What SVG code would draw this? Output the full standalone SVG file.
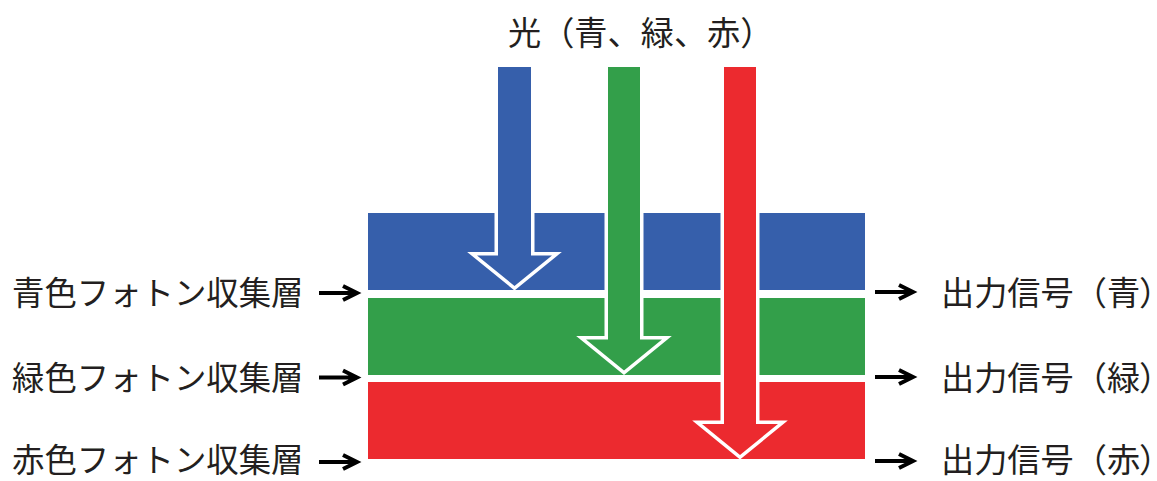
<svg xmlns="http://www.w3.org/2000/svg" width="1157" height="481" viewBox="0 0 1157 481">
<style>
.t{font-family:"Noto Sans CJK JP","Noto Sans",sans-serif;font-size:32.4px;fill:#231f20}
.r{font-size:33.2px}
.p{font-feature-settings:"palt"}
.arr{stroke:#fff;stroke-width:7;stroke-linejoin:miter;paint-order:stroke}
.c{fill:none;stroke:#000;stroke-width:4;stroke-linecap:butt;stroke-linejoin:miter}
</style>
<rect width="1157" height="481" fill="#fff"/>
<g id="layer-blue"><rect x="368" y="213" width="497" height="77" fill="#365fab"/></g>
<g id="layer-green"><rect x="368" y="298" width="497" height="77" fill="#339f4a"/></g>
<g id="layer-red"><rect x="368" y="382" width="497" height="77" fill="#ec2a2f"/></g>
<g id="light-blue"><path class="arr" fill="#365fab" d="M498,67 H531 V255.5 H552 L514.5,286 L477,255.5 H498 Z"/></g>
<g id="light-green"><path class="arr" fill="#339f4a" d="M608,67 H640 V339.5 H662 L624,370.5 L586,339.5 H608 Z"/></g>
<g id="light-red"><path class="arr" fill="#ec2a2f" d="M724,67 H756 V424 H778 L740,455 L702,424 H724 Z"/></g>
<g id="title"><text class="t r" x="508" y="45">光（青、緑、赤）</text></g>
<g id="label-blue"><text class="t" x="12" y="305">青色フォトン収集層</text></g>
<g id="label-green"><text class="t" x="12" y="390">緑色フォトン収集層</text></g>
<g id="label-red"><text class="t" x="12" y="471.5">赤色フォトン収集層</text></g>
<g id="out-blue"><text class="t r" x="941" y="305">出力信号（青<tspan class="p">）</tspan></text></g>
<g id="out-green"><text class="t r" x="941" y="390">出力信号（緑<tspan class="p">）</tspan></text></g>
<g id="out-red"><text class="t r" x="941" y="471.5">出力信号（赤<tspan class="p">）</tspan></text></g>
<g id="connectors">
<path class="c" d="M319,293 H356 M343,286 L357,293 L343,300"/>
<path class="c" d="M319,377.5 H356 M343,370.5 L357,377.5 L343,384.5"/>
<path class="c" d="M319,462 H356 M343,455 L357,462 L343,469"/>
<path class="c" d="M875,292 H912 M899,285 L913,292 L899,299"/>
<path class="c" d="M875,377 H912 M899,370 L913,377 L899,384"/>
<path class="c" d="M875,461 H912 M899,454 L913,461 L899,468"/>
</g>
</svg>
